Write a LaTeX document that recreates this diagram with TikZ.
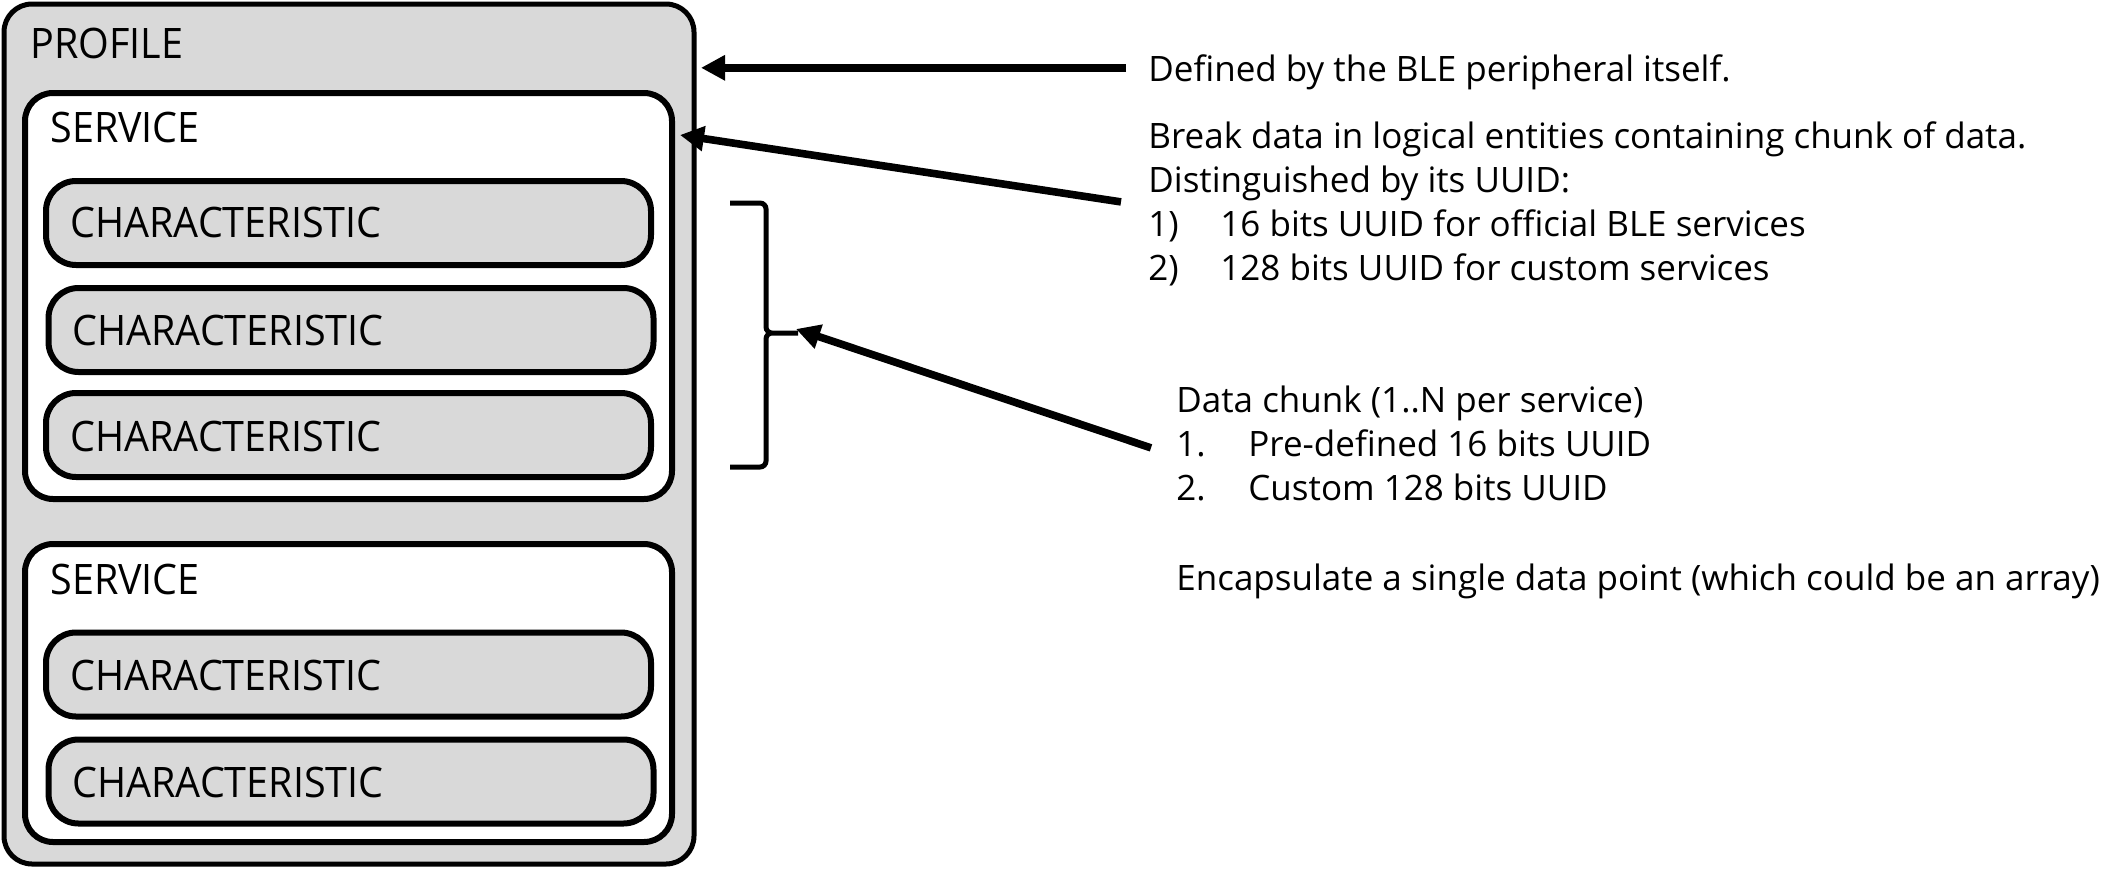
\documentclass[tikz,border=0pt]{standalone}
\usepackage{fontspec}
\setmainfont{Open Sans}
\newfontfamily\labelfont{Open Sans}[FakeStretch=0.94]
\usetikzlibrary{arrows.meta}
\definecolor{boxgray}{HTML}{D9D9D9}
\begin{document}
\begin{tikzpicture}[x=0.5pt,y=-0.5pt,
  boxbase/.style={draw=black, inner sep=0pt, outer sep=0pt},
  profilebox/.style={boxbase, fill=boxgray, line width=2.5pt, rounded corners=14pt,
    minimum width=345pt, minimum height=430pt},
  servicebox/.style={boxbase, fill=white, line width=3pt, rounded corners=14pt,
    minimum width=323.5pt},
  charbox/.style={boxbase, fill=boxgray, line width=3pt, rounded corners=15pt,
    minimum width=302.5pt, minimum height=42pt},
  boxlabel/.style={anchor=base west, inner sep=0pt, font=\labelfont\fontsize{21}{25}\selectfont},
  note/.style={anchor=base west, inner sep=0pt, font=\fontsize{17.5}{22}\selectfont},
  pointer/.style={line width=3.8pt, -{Triangle[length=12pt,width=12pt]}},
  bracket/.style={line width=2.5pt, rounded corners=3pt}]
\useasboundingbox (0,0) rectangle (2111,868);

% nested containers
\node[profilebox] (prof) at (349,434) {};
\node[servicebox, minimum height=203pt] (sv1) at (348.5,296) {};
\node[servicebox, minimum height=149pt] (sv2) at (348.5,693) {};
\node[charbox] (ch1) at (348.5,223) {};
\node[charbox] (ch2) at (351,330) {};
\node[charbox] (ch3) at (348.5,435) {};
\node[charbox] (ch4) at (348.5,674.5) {};
\node[charbox] (ch5) at (351,781.5) {};

% container labels
\node[boxlabel] (lprof) at (30,58) {PROFILE};
\node[boxlabel] (lsv1) at (50,142) {SERVICE};
\node[boxlabel] (lsv2) at (50,594) {SERVICE};
\node[boxlabel] (lch1) at (70,237) {CHARACTERISTIC};
\node[boxlabel] (lch2) at (72,345) {CHARACTERISTIC};
\node[boxlabel] (lch3) at (70,451) {CHARACTERISTIC};
\node[boxlabel] (lch4) at (70,690) {CHARACTERISTIC};
\node[boxlabel] (lch5) at (72,797) {CHARACTERISTIC};

% explanations
\node[note] (d1) at (1148,81) {Defined by the BLE peripheral itself.};
\node[note] (b1) at (1148,148) {Break data in logical entities containing chunk of data.};
\node[note] (b2) at (1148,192) {Distinguished by its UUID:};
\node[note] (b3) at (1148,236) {\makebox[36pt][l]{1)}16 bits UUID for official BLE services};
\node[note] (b4) at (1148,280) {\makebox[36pt][l]{2)}128 bits UUID for custom services};
\node[note] (c1) at (1176,412) {Data chunk (1..N per service)};
\node[note] (c2) at (1176,456) {\makebox[36pt][l]{1.}Pre-defined 16 bits UUID};
\node[note] (c3) at (1176,500) {\makebox[36pt][l]{2.}Custom 128 bits UUID};
\node[note] (c4) at (1176,590) {Encapsulate a single data point (which could be an array)};

% brace grouping the characteristics of the first service
\coordinate (brtip) at (798,333);
\draw[bracket] (730,203) -- (766,203) -- (766,333) -- (brtip)
               (brtip) -- (766,333) -- (766,467) -- (730,467);

% pointers
\coordinate (p1) at ([xshift=-11pt,yshift=2pt]d1.west);
\draw[pointer] (p1) -- ([xshift=3.5pt]prof.east |- p1);
\draw[pointer] ([xshift=-13.5pt,yshift=-9.5pt]b2.west) -- ([xshift=4pt,yshift=-21pt]sv1.north east);
\draw[pointer] ([xshift=-12.5pt,yshift=-2.5pt]c2.west) -- ([xshift=-1pt,yshift=2pt]brtip);
\end{tikzpicture}
\end{document}
